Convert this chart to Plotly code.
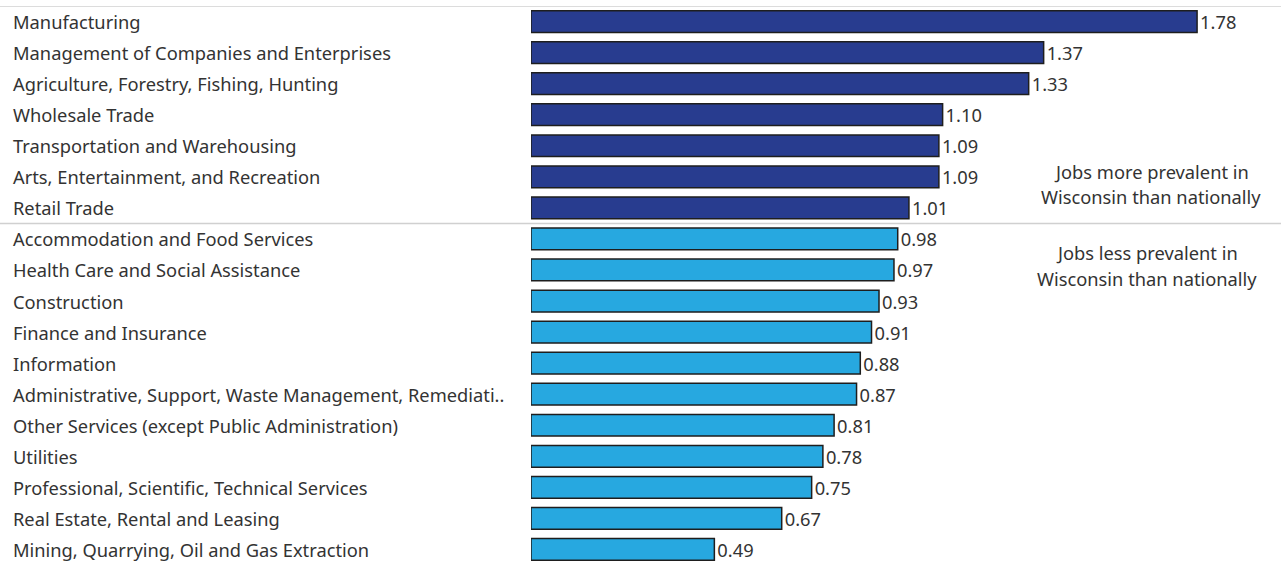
import plotly.graph_objects as go

industries = [
    "Manufacturing",
    "Management of Companies and Enterprises",
    "Agriculture, Forestry, Fishing, Hunting",
    "Wholesale Trade",
    "Transportation and Warehousing",
    "Arts, Entertainment, and Recreation",
    "Retail Trade",
    "Accommodation and Food Services",
    "Health Care and Social Assistance",
    "Construction",
    "Finance and Insurance",
    "Information",
    "Administrative, Support, Waste Management, Remediati..",
    "Other Services (except Public Administration)",
    "Utilities",
    "Professional, Scientific, Technical Services",
    "Real Estate, Rental and Leasing",
    "Mining, Quarrying, Oil and Gas Extraction",
]
location_quotient = [1.78, 1.37, 1.33, 1.10, 1.09, 1.09, 1.01, 0.98, 0.97, 0.93,
                     0.91, 0.88, 0.87, 0.81, 0.78, 0.75, 0.67, 0.49]
value_labels = ["%.2f" % v for v in location_quotient]

DARK = "#283C8F"
LIGHT = "#27A8E0"
colors = [DARK if v > 1 else LIGHT for v in location_quotient]

W, H = 1281, 565
FONT = "Noto Sans"
TXT = "#333333"
FS = 18.3

fig = go.Figure()
fig.add_trace(go.Bar(
    x=location_quotient,
    y=industries,
    orientation="h",
    marker=dict(color=colors, line=dict(color="#1e1e1e", width=1.5)),
    width=0.7,
    text=value_labels,
    textposition="outside",
    constraintext="none",
    cliponaxis=False,
    textfont=dict(family=FONT, size=FS, color=TXT),
    hoverinfo="skip",
))

annotations = []
for name in industries:
    annotations.append(dict(
        x=11 / W, xref="paper", y=name, yref="y",
        text=name, showarrow=False, xanchor="left", yanchor="middle",
        font=dict(family=FONT, size=FS, color=TXT),
    ))
side_notes = [
    ("Jobs more prevalent in", 1151, 4.82),
    ("Wisconsin than nationally", 1151, 5.65),
    ("Jobs less prevalent in", 1147, 7.43),
    ("Wisconsin than nationally", 1147, 8.27),
]
for txt, xp, yv in side_notes:
    annotations.append(dict(
        x=xp / W, xref="paper", y=yv, yref="y",
        text=txt, showarrow=False, xanchor="center", yanchor="middle",
        font=dict(family=FONT, size=FS, color=TXT),
    ))

shapes = [
    dict(type="line", xref="paper", x0=0, x1=1, yref="y", y0=-0.5, y1=-0.5,
         line=dict(color="#d0d0d0", width=1.5)),
    dict(type="line", xref="paper", x0=0, x1=1, yref="y", y0=6.5, y1=6.5,
         line=dict(color="#d0d0d0", width=1.5)),
]

fig.update_layout(
    width=W, height=H,
    margin=dict(l=0, r=0, t=6, b=0),
    paper_bgcolor="white", plot_bgcolor="white",
    showlegend=False,
    bargap=0.3,
    xaxis=dict(domain=[531 / W, 1], range=[0, 750 / 374.2], visible=False, fixedrange=True),
    yaxis=dict(autorange=False, range=[17.5, -0.5], showticklabels=False,
               showgrid=False, zeroline=False, fixedrange=True),
    annotations=annotations,
    shapes=shapes,
)

fig.write_html(
    "out.html",
    config={"displayModeBar": False},
    post_script="document.body.style.margin='0';document.body.style.overflow='hidden';",
)
